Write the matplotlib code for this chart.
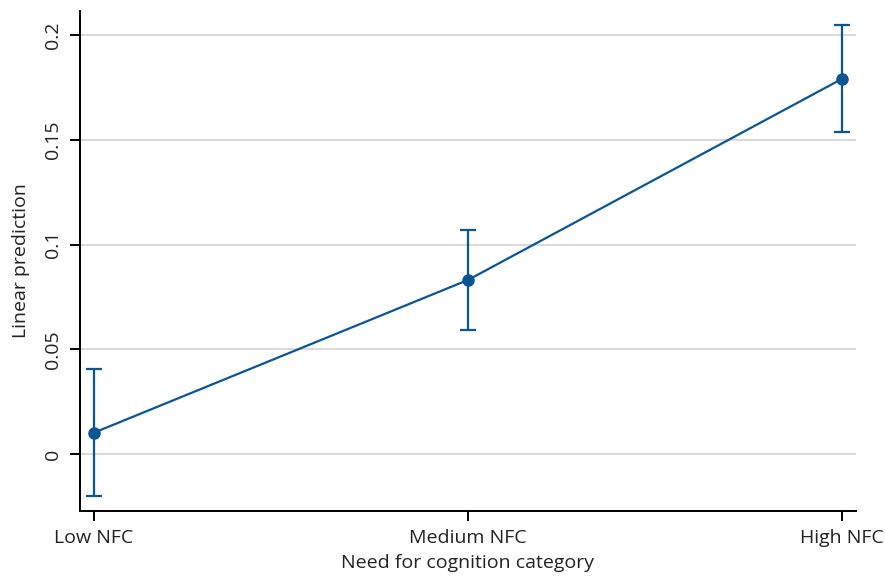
import numpy as np
import matplotlib.pyplot as plt

plt.rcParams['font.family'] = ['Open Sans', 'DejaVu Sans']

categories = ['Low NFC', 'Medium NFC', 'High NFC']
pred = [0.0102, 0.0831, 0.1791]
ci_low = [-0.0202, 0.0590, 0.1536]
ci_high = [0.0406, 0.1071, 0.2049]

blue = '#0b5595'

fig = plt.figure(figsize=(8.85, 5.76), dpi=100)
ax = fig.add_axes([0.0904, 0.1128, 0.8768, 0.8681])

x = np.arange(len(categories))
pred = np.array(pred)
yerr = [pred - np.array(ci_low), np.array(ci_high) - pred]
ax.errorbar(x, pred, yerr=yerr, color=blue, lw=1.6, marker='o', ms=8,
            capsize=6, capthick=1.6, elinewidth=1.6, zorder=3)

ax.set_xlim(-0.0374, 2.0374)
ax.set_ylim(-0.0272, 0.2115)
ax.set_yticks([0, 0.05, 0.1, 0.15, 0.2])
ax.set_yticklabels(['0', '0.05', '0.1', '0.15', '0.2'], rotation=90, va='center')
ax.set_xticks(x)
ax.set_xticklabels(categories)
ax.grid(axis='y', color='#d9d9d9', lw=1.4)
ax.set_axisbelow(True)

for s in ['top', 'right']:
    ax.spines[s].set_visible(False)
for s in ['left', 'bottom']:
    ax.spines[s].set_linewidth(1.4)
ax.tick_params(length=7, width=1.4, labelsize=14, color='black', labelcolor='#222222', pad=6)

ax.set_xlabel('Need for cognition category', fontsize=14, color='#222222', labelpad=5)
ax.set_ylabel('Linear prediction', fontsize=14, color='#222222', labelpad=10)

fig.savefig('out.png', dpi=100)
